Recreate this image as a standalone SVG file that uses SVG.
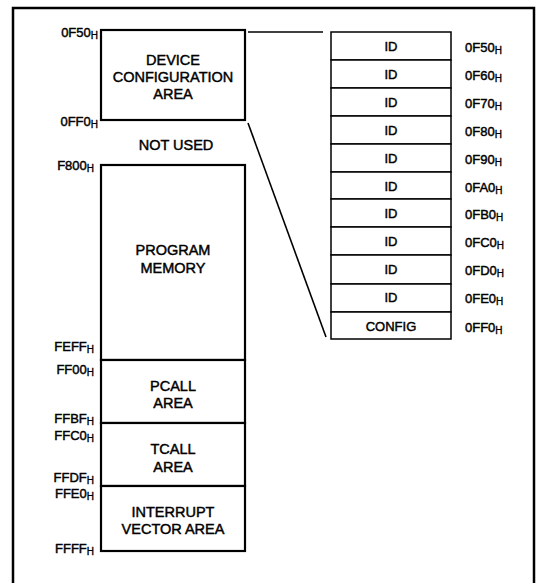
<svg xmlns="http://www.w3.org/2000/svg" width="539" height="583" viewBox="0 0 539 583">
<style>
text{font-family:"Liberation Sans",Arial,sans-serif;fill:#000;stroke:#000;stroke-width:0.45px}
.box{fill:#fff;stroke:#000;stroke-width:2.2}
.cell{fill:#fff;stroke:#000;stroke-width:1.5}
.t{font-size:14.5px;text-anchor:middle}
.c{font-size:13px;text-anchor:middle}
.l{font-size:13px;text-anchor:end}
.r{font-size:13px}
.s{font-size:10px;stroke-width:0.35px}
.con{stroke:#000;stroke-width:1.6;fill:none}
</style>
<rect x="0" y="0" width="539" height="583" fill="#fff"/>
<rect x="13" y="8" width="521" height="590" fill="none" stroke="#000" stroke-width="2.5"/>

<g id="connectors">
<line class="con" x1="248" y1="32" x2="323" y2="32"/>
<line class="con" x1="248" y1="123" x2="326" y2="337"/>
</g>

<g id="device-config">
<rect class="box" x="101" y="30" width="144" height="90"/>
<text class="t" x="173" y="65">DEVICE</text>
<text class="t" x="173" y="82">CONFIGURATION</text>
<text class="t" x="173" y="99">AREA</text>
</g>
<g id="not-used"><text class="t" x="176" y="150">NOT USED</text></g>
<g id="program-memory">
<rect class="box" x="101" y="165" width="144" height="195"/>
<text class="t" x="173" y="255">PROGRAM</text>
<text class="t" x="173" y="273">MEMORY</text>
</g>
<g id="pcall">
<rect class="box" x="101" y="360" width="144" height="63"/>
<text class="t" x="173" y="391">PCALL</text>
<text class="t" x="173" y="408">AREA</text>
</g>
<g id="tcall">
<rect class="box" x="101" y="423" width="144" height="63"/>
<text class="t" x="173" y="454">TCALL</text>
<text class="t" x="173" y="472">AREA</text>
</g>
<g id="interrupt">
<rect class="box" x="101" y="486" width="144" height="65"/>
<text class="t" x="173" y="517">INTERRUPT</text>
<text class="t" x="173" y="534">VECTOR AREA</text>
</g>

<g id="left-labels">
<text class="l" x="98" y="37">0F50<tspan class="s" dy="2">H</tspan></text>
<text class="l" x="98" y="126">0FF0<tspan class="s" dy="2">H</tspan></text>
<text class="l" x="94" y="170">F800<tspan class="s" dy="2">H</tspan></text>
<text class="l" x="94" y="351">FEFF<tspan class="s" dy="2">H</tspan></text>
<text class="l" x="94" y="374">FF00<tspan class="s" dy="2">H</tspan></text>
<text class="l" x="94" y="423">FFBF<tspan class="s" dy="2">H</tspan></text>
<text class="l" x="94" y="440">FFC0<tspan class="s" dy="2">H</tspan></text>
<text class="l" x="94" y="482">FFDF<tspan class="s" dy="2">H</tspan></text>
<text class="l" x="94" y="498">FFE0<tspan class="s" dy="2">H</tspan></text>
<text class="l" x="94" y="553">FFFF<tspan class="s" dy="2">H</tspan></text>
</g>

<g id="id-table">
<rect class="cell" x="331" y="32" width="120" height="28"/>
<rect class="cell" x="331" y="60" width="120" height="28"/>
<rect class="cell" x="331" y="88" width="120" height="28"/>
<rect class="cell" x="331" y="116" width="120" height="28"/>
<rect class="cell" x="331" y="144" width="120" height="28"/>
<rect class="cell" x="331" y="172" width="120" height="27"/>
<rect class="cell" x="331" y="199" width="120" height="28"/>
<rect class="cell" x="331" y="227" width="120" height="28"/>
<rect class="cell" x="331" y="255" width="120" height="29"/>
<rect class="cell" x="331" y="284" width="120" height="28"/>
<rect class="cell" x="331" y="312" width="120" height="27"/>
<text class="c" x="391" y="51">ID</text>
<text class="c" x="391" y="79">ID</text>
<text class="c" x="391" y="107">ID</text>
<text class="c" x="391" y="135">ID</text>
<text class="c" x="391" y="163">ID</text>
<text class="c" x="391" y="191">ID</text>
<text class="c" x="391" y="218">ID</text>
<text class="c" x="391" y="246">ID</text>
<text class="c" x="391" y="274">ID</text>
<text class="c" x="391" y="302">ID</text>
<text class="c" x="391" y="331">CONFIG</text>
</g>
<g id="right-labels">
<text class="r" x="465" y="52">0F50<tspan class="s" dy="2">H</tspan></text>
<text class="r" x="465" y="80">0F60<tspan class="s" dy="2">H</tspan></text>
<text class="r" x="465" y="108">0F70<tspan class="s" dy="2">H</tspan></text>
<text class="r" x="465" y="136">0F80<tspan class="s" dy="2">H</tspan></text>
<text class="r" x="465" y="164">0F90<tspan class="s" dy="2">H</tspan></text>
<text class="r" x="465" y="192">0FA0<tspan class="s" dy="2">H</tspan></text>
<text class="r" x="465" y="219">0FB0<tspan class="s" dy="2">H</tspan></text>
<text class="r" x="465" y="247">0FC0<tspan class="s" dy="2">H</tspan></text>
<text class="r" x="465" y="275">0FD0<tspan class="s" dy="2">H</tspan></text>
<text class="r" x="465" y="303">0FE0<tspan class="s" dy="2">H</tspan></text>
<text class="r" x="465" y="332">0FF0<tspan class="s" dy="2">H</tspan></text>
</g>
</svg>
